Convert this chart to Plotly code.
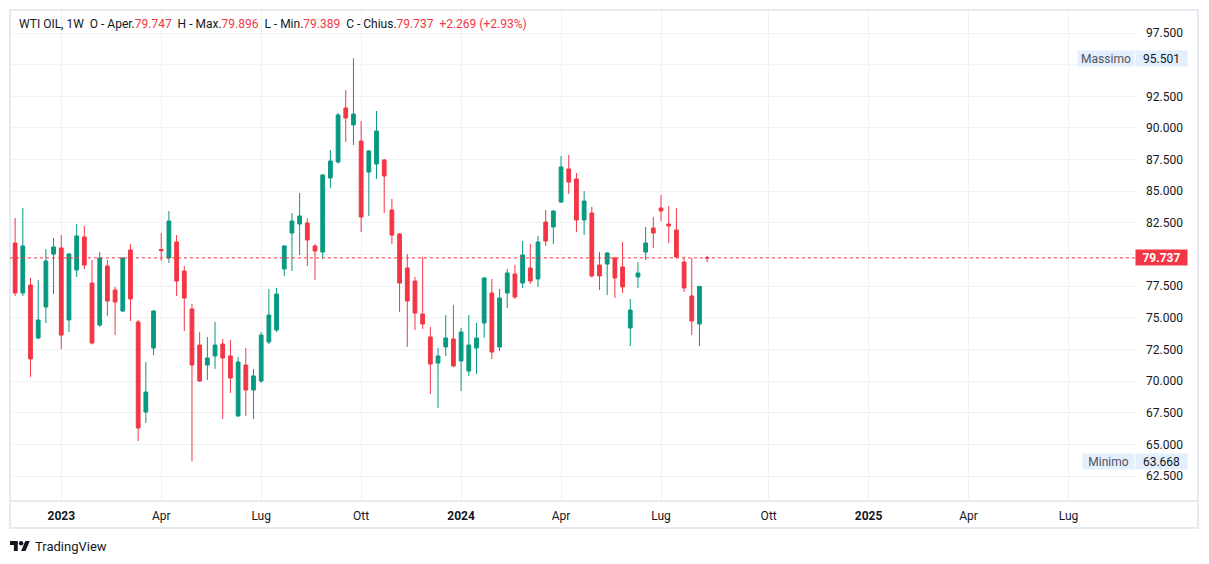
import pandas as pd
import plotly.graph_objects as go

# ---------------- data (weekly WTI OIL candles) ----------------
start_week = "2022-11-21"
opens = [
    80.91, 76.96, 77.59, 73.41, 75.86, 80.04, 80.52, 74.83, 78.78, 81.39,
    77.75, 74.43, 79.10, 77.20, 75.54, 80.36, 74.67, 67.56, 72.62, 80.40,
    79.73, 80.99, 78.70, 75.70, 72.85, 71.27, 71.99, 72.93, 71.99, 67.25,
    71.27, 69.30, 70.01, 73.09, 74.04, 78.86, 81.70, 82.41, 82.49, 80.68,
    80.20, 86.05, 87.31, 91.58, 90.24, 88.97, 86.52, 87.15, 87.47, 83.52,
    81.62, 78.94, 77.91, 75.30, 73.49, 71.43, 72.70, 73.33, 71.59, 70.80,
    72.62, 74.59, 76.96, 72.70, 76.96, 78.46, 77.75, 78.94, 78.07, 82.57,
    82.18, 84.15, 86.76, 85.97, 82.73, 83.28, 79.17, 79.25, 79.73, 79.02,
    74.20, 78.23, 80.20, 82.10, 83.68, 82.41, 81.94, 79.41, 76.73, 74.51,
    79.747]
highs = [
    82.89, 83.68, 78.15, 77.99, 80.44, 81.31, 81.54, 80.12, 82.41, 82.26,
    79.57, 80.20, 79.57, 77.44, 79.81, 80.83, 74.83, 71.51, 75.62, 81.70,
    83.44, 81.54, 79.10, 76.09, 73.88, 73.49, 74.67, 73.33, 73.25, 71.91,
    72.62, 70.96, 73.88, 77.28, 77.36, 80.75, 83.28, 84.86, 82.89, 80.83,
    86.36, 88.26, 91.18, 93.00, 95.501, 90.55, 88.26, 91.34, 87.55, 84.39,
    81.70, 80.04, 78.23, 79.81, 74.28, 72.62, 75.22, 76.02, 74.20, 75.22,
    74.59, 78.23, 78.07, 77.28, 78.86, 79.17, 81.07, 80.83, 81.47, 83.52,
    83.52, 87.79, 87.87, 86.44, 85.02, 83.76, 80.20, 80.20, 79.81, 80.99,
    76.49, 79.41, 82.18, 82.97, 84.71, 83.84, 83.68, 79.81, 79.73, 77.55,
    79.896]
lows = [
    76.73, 76.73, 70.33, 73.30, 74.59, 76.88, 72.54, 73.88, 78.23, 78.86,
    72.90, 74.28, 75.15, 73.64, 75.46, 74.75, 65.27, 66.69, 72.06, 79.49,
    79.33, 76.73, 73.96, 63.668, 69.93, 70.09, 70.96, 67.01, 69.06, 67.17,
    67.25, 67.01, 69.85, 72.93, 73.88, 78.31, 78.70, 79.96, 79.10, 77.99,
    79.65, 85.26, 87.20, 88.89, 88.65, 81.78, 83.05, 85.97, 83.28, 80.83,
    75.46, 72.70, 74.04, 74.12, 68.98, 67.88, 71.99, 71.10, 69.22, 70.41,
    70.56, 73.41, 71.75, 72.38, 75.78, 76.49, 77.36, 77.67, 77.44, 80.68,
    80.83, 84.07, 84.78, 81.78, 81.54, 78.20, 77.20, 76.80, 76.57, 76.96,
    72.78, 77.36, 79.57, 80.52, 82.65, 80.91, 79.70, 77.04, 73.64, 72.78,
    79.389]
closes = [
    76.96, 80.68, 71.75, 74.83, 79.49, 80.60, 73.64, 80.04, 81.47, 79.17,
    73.01, 79.73, 76.33, 76.25, 79.73, 76.49, 66.30, 69.14, 75.54, 80.30,
    82.65, 77.91, 76.57, 71.27, 70.01, 71.83, 72.85, 71.83, 70.25, 71.51,
    69.30, 70.41, 73.64, 75.22, 76.88, 80.68, 82.65, 83.05, 81.15, 80.28,
    86.28, 87.39, 91.03, 90.79, 91.10, 82.97, 88.18, 89.76, 86.21, 81.54,
    77.75, 76.33, 75.38, 74.51, 71.35, 71.99, 73.41, 71.20, 73.88, 72.85,
    73.41, 78.15, 72.30, 76.57, 78.54, 76.65, 79.96, 77.91, 80.99, 81.07,
    83.44, 86.92, 85.73, 82.73, 84.23, 78.31, 78.31, 80.12, 78.15, 77.44,
    75.62, 78.54, 80.91, 81.70, 83.44, 82.26, 79.81, 77.36, 74.75, 77.468,
    79.737]
dates = pd.date_range(start_week, periods=len(opens), freq="7D")

tick_dates = ["2023-01-02", "2023-04-03", "2023-07-03", "2023-10-02", "2024-01-01",
              "2024-04-01", "2024-07-01", "2024-10-07", "2025-01-06", "2025-04-07",
              "2025-07-07"]
tick_labels = ["<b>2023</b>", "Apr", "Lug", "Ott", "<b>2024</b>", "Apr", "Lug", "Ott",
               "<b>2025</b>", "Apr", "Lug"]
# price levels of the grid; the labels of 95.000 and 80.000 sit under the
# Massimo and last-price labels, so only the visible ones carry tick text
price_grid = [62.5, 65.0, 67.5, 70.0, 72.5, 75.0, 77.5, 80.0, 82.5, 85.0,
              87.5, 90.0, 92.5, 95.0, 97.5]
price_hidden = [80.0, 95.0]

last_price = 79.737
max_price = 95.501
min_price = 63.668

GREEN = "#089981"
RED = "#F23645"
TXT = "#131722"
GRID = "#f0f1f4"
FRAME = "#e0e3eb"
FONT = "Roboto"

W, H = 1209, 564
L, R, T, B = 10, 1135, 10, 501   # plot area in pixels


def px(x):
    return (x - L) / (R - L)


def py(y):
    return (B - y) / (B - T)


fig = go.Figure()
fig.add_trace(go.Candlestick(
    x=dates, open=opens, high=highs, low=lows, close=closes,
    increasing=dict(line=dict(color=GREEN, width=1), fillcolor=GREEN),
    decreasing=dict(line=dict(color=RED, width=1), fillcolor=RED),
    hoverinfo="skip", showlegend=False,
))

shapes = []
# grid lines for levels whose label is hidden
for lvl in price_hidden:
    shapes.append(dict(type="line", xref="paper", yref="y", x0=0, x1=1, y0=lvl, y1=lvl,
                       line=dict(color=GRID, width=1), layer="below"))
# outer frame
shapes.append(dict(type="rect", xref="paper", yref="paper",
                   x0=px(10), x1=px(1198), y0=py(528), y1=py(10),
                   line=dict(color=FRAME, width=1.5), layer="above"))
# time-axis separator
shapes.append(dict(type="line", xref="paper", yref="paper",
                   x0=px(10), x1=px(1198), y0=py(501), y1=py(501),
                   line=dict(color=FRAME, width=1.5), layer="above"))
# last price dotted line
shapes.append(dict(type="line", xref="paper", yref="y",
                   x0=0, x1=1, y0=last_price, y1=last_price,
                   line=dict(color=RED, width=1, dash="dot"), layer="above"))

# TradingView logo (36x28 viewBox)
s = 0.556
ox, oy = 10, 541 - 4 * s


def lp(u, v):
    return f"{px(ox + u * s):.5f},{py(oy + v * s):.5f}"


tshape = "M" + " L".join(lp(u, v) for u, v in [(14, 22), (7, 22), (7, 11), (0, 11), (0, 4), (14, 4)]) + " Z"
para = "M" + " L".join(lp(u, v) for u, v in [(28, 22), (20, 22), (27.5, 4), (35.5, 4)]) + " Z"
shapes.append(dict(type="path", xref="paper", yref="paper", path=tshape,
                   fillcolor=TXT, line=dict(width=0)))
shapes.append(dict(type="path", xref="paper", yref="paper", path=para,
                   fillcolor=TXT, line=dict(width=0)))
shapes.append(dict(type="circle", xref="paper", yref="paper",
                   x0=px(ox + 16 * s), x1=px(ox + 24 * s),
                   y0=py(oy + 12 * s), y1=py(oy + 4 * s),
                   fillcolor=TXT, line=dict(width=0)))

hdr = (f"WTI OIL, 1W  O - Aper.<span style='color:{RED}'>79.747</span>  "
       f"H - Max.<span style='color:{RED}'>79.896</span>  "
       f"L - Min.<span style='color:{RED}'>79.389</span>  "
       f"C - Chius.<span style='color:{RED}'>79.737</span>  "
       f"<span style='color:{RED}'>+2.269 (+2.93%)</span>")

LBL_BG = "#e3effd"
annotations = [
    dict(text=hdr, xref="paper", yref="paper", x=px(17), y=py(24),
         xanchor="left", yanchor="middle", showarrow=False,
         font=dict(family=FONT, size=12, color=TXT)),
    dict(text="TradingView", xref="paper", yref="paper", x=px(33), y=py(546),
         xanchor="left", yanchor="middle", showarrow=False,
         font=dict(family=FONT, size=13, color=TXT)),
    # Massimo
    dict(text="Massimo", xref="paper", yref="y", x=px(1106), y=max_price,
         xanchor="center", yanchor="middle", showarrow=False, width=52, height=11,
         borderpad=2, bgcolor=LBL_BG, font=dict(family=FONT, size=12, color="#50535e")),
    dict(text=f"{max_price:.3f}", xref="paper", yref="y", x=px(1161.5), y=max_price,
         xanchor="center", yanchor="middle", showarrow=False, width=47, height=11,
         borderpad=2, bgcolor=LBL_BG, font=dict(family=FONT, size=12, color=TXT)),
    # Minimo
    dict(text="Minimo", xref="paper", yref="y", x=px(1108.5), y=min_price,
         xanchor="center", yanchor="middle", showarrow=False, width=47, height=11,
         borderpad=2, bgcolor=LBL_BG, font=dict(family=FONT, size=12, color="#50535e")),
    dict(text=f"{min_price:.3f}", xref="paper", yref="y", x=px(1161.5), y=min_price,
         xanchor="center", yanchor="middle", showarrow=False, width=47, height=11,
         borderpad=2, bgcolor=LBL_BG, font=dict(family=FONT, size=12, color=TXT)),
    # last price
    dict(text=f"<b>{last_price:.3f}</b>", xref="paper", yref="y", x=px(1161.5), y=last_price,
         xanchor="center", yanchor="middle", showarrow=False, width=47, height=11,
         borderpad=2, bgcolor=RED, font=dict(family=FONT, size=12, color="white")),
]

shown = [v for v in price_grid if v not in price_hidden]

fig.update_layout(
    width=W, height=H,
    margin=dict(l=L, r=W - R, t=T, b=H - B),
    paper_bgcolor="white", plot_bgcolor="white",
    font=dict(family=FONT, size=12, color=TXT),
    showlegend=False,
    shapes=shapes, annotations=annotations,
    hovermode=False,
    xaxis=dict(
        type="date",
        range=["2022-11-16 08:00", "2025-09-05 12:00"],
        tickvals=tick_dates, ticktext=tick_labels,
        showgrid=True, gridcolor=GRID, gridwidth=1,
        zeroline=False, showline=False, ticks="",
        rangeslider=dict(visible=False),
        tickfont=dict(family=FONT, size=12, color=TXT),
        ticklabelstandoff=6,
        fixedrange=True,
    ),
    yaxis=dict(
        side="right",
        range=[60.53, 99.32],
        tickvals=shown, ticktext=[f"{v:.3f}" for v in shown],
        showgrid=True, gridcolor=GRID, gridwidth=1,
        zeroline=False, showline=False, ticks="",
        tickfont=dict(family=FONT, size=12, color=TXT),
        ticklabelstandoff=10,
        fixedrange=True,
    ),
)

fig.write_html("out.html")
